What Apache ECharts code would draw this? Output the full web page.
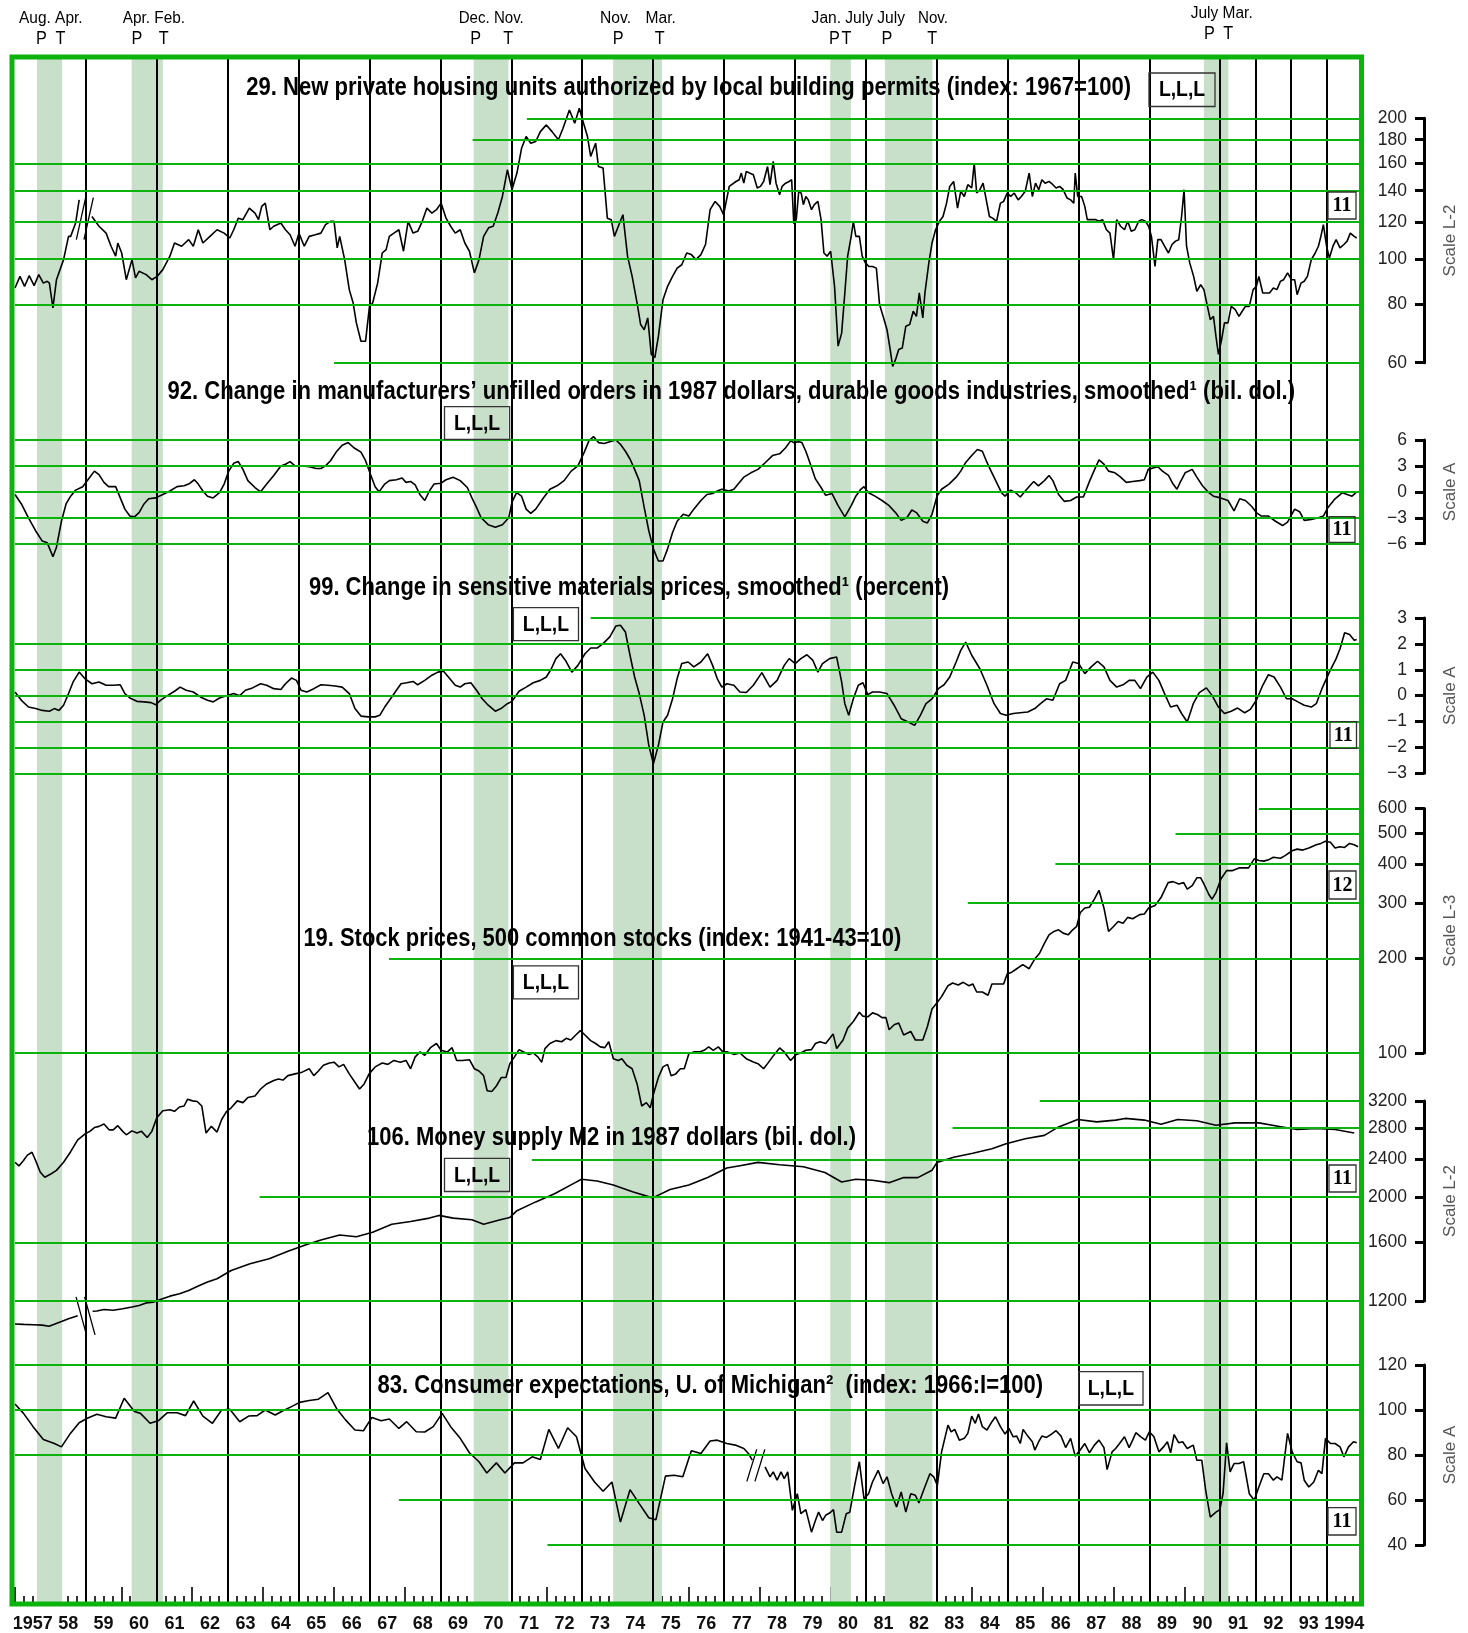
<!DOCTYPE html>
<html><head><meta charset="utf-8">
<script src="https://cdn.jsdelivr.net/npm/echarts@6/dist/echarts.min.js"></script>
<style>html,body{margin:0;padding:0;background:#fff}#c{width:1468px;height:1633px}</style>
</head><body><div id="c"></div>
<script>
// ---------------- DATA ----------------
const yearLabels = ['1957','58','59','60','61','62','63','64','65','66','67','68','69','70','71','72','73','74','75','76','77','78','79','80','81','82','83','84','85','86','87','88','89','90','91','92','93','1994'];
const recessions = [[1957.62,1958.33],[1960.29,1961.17],[1969.94,1970.92],[1973.875,1975.25],[1980.0,1980.58],[1981.54,1982.88],[1990.54,1991.23]];
const yearLines = [1959,1961,1963,1965,1967,1969,1971,1973,1975,1977,1979,1981,1983,1985,1987,1989,1991,1992,1993,1994];

const s29 = [[1957.00,86.7],[1957.14,91.8],[1957.27,87.4],[1957.40,92.1],[1957.54,87.7],[1957.67,92.6],[1957.80,88.8],[1957.91,89.6],[1957.97,88.8],[1958.07,78.6],[1958.17,90.3],[1958.37,99.7],[1958.51,111.8],[1958.57,111.8],[1958.71,119.4],[1958.81,133.8],[1959.0,null],
[1959.17,123.3],[1959.37,117.5],[1959.57,113.6],[1959.71,106.5],[1959.84,101.4],[1959.90,108.2],[1960.01,103.0],[1960.14,90.3],[1960.30,99.7],[1960.40,91.1],[1960.50,94.1],[1960.70,92.6],[1960.86,90.3],[1961.01,91.8],[1961.17,94.9],[1961.37,101.4],[1961.50,108.2],[1961.70,106.5],[1961.90,110.0],[1962.03,106.5],[1962.17,115.5],[1962.30,108.2],[1962.50,111.8],[1962.70,115.5],[1962.90,113.6],[1963.06,110.9],[1963.17,115.5],[1963.30,122.3],[1963.43,121.4],[1963.61,128.5],[1963.77,125.4],[1963.87,121.4],[1963.96,129.6],[1964.06,131.7],[1964.19,115.5],[1964.30,117.5],[1964.50,119.4],[1964.63,115.5],[1964.76,112.7],[1964.90,106.5],[1965.01,113.6],[1965.16,106.5],[1965.30,111.8],[1965.47,112.7],[1965.63,113.6],[1965.76,118.5],[1965.90,120.4],[1966.00,120.4],[1966.09,105.6],[1966.16,111.8],[1966.30,99.7],[1966.43,86.0],[1966.54,80.5],[1966.63,73.0],[1966.76,66.7],[1966.89,66.7],[1967.00,79.2],[1967.09,80.5],[1967.23,88.8],[1967.36,103.0],[1967.47,104.7],[1967.56,111.8],[1967.69,113.6],[1967.83,115.5],[1967.96,103.9],[1968.09,120.4],[1968.23,113.6],[1968.36,114.6],[1968.49,120.4],[1968.62,128.5],[1968.76,125.4],[1968.89,127.5],[1969.02,131.7],[1969.16,122.3],[1969.29,117.5],[1969.42,113.6],[1969.56,115.5],[1969.69,108.2],[1969.82,103.9],[1969.96,93.4],[1970.09,99.7],[1970.22,111.8],[1970.36,116.6],[1970.49,117.5],[1970.62,125.4],[1970.75,136.1],[1970.89,155.2],[1971.02,140.7],[1971.16,152.7],[1971.29,172.5],[1971.42,182.8],[1971.55,176.9],[1971.69,178.4],[1971.82,187.3],[1971.99,193.6],[1972.15,187.3],[1972.33,179.9],[1972.46,190.5],[1972.64,208.4],[1972.79,195.2],[1972.92,210.1],[1973.04,195.2],[1973.15,182.8],[1973.24,165.7],[1973.38,176.9],[1973.46,157.7],[1973.59,156.5],[1973.71,122.3],[1973.82,121.4],[1973.91,111.8],[1974.02,117.5],[1974.15,124.4],[1974.28,101.4],[1974.41,91.8],[1974.55,80.5],[1974.65,72.4],[1974.75,70.6],[1974.85,74.8],[1974.95,62.5],[1975.05,61.5],[1975.15,68.3],[1975.28,81.8],[1975.41,87.4],[1975.55,91.8],[1975.68,95.6],[1975.81,97.2],[1975.95,103.0],[1976.08,102.2],[1976.21,99.7],[1976.35,102.2],[1976.48,107.4],[1976.61,127.5],[1976.75,132.8],[1976.88,129.6],[1976.99,124.4],[1977.15,143.0],[1977.34,146.5],
[1977.43,147.8],[1977.49,152.7],[1977.56,145.3],[1977.63,154.0],[1977.72,152.7],[1977.83,151.5],[1977.94,141.9],[1978.03,143.0],[1978.12,146.5],[1978.23,157.7],[1978.30,144.2],[1978.39,161.7],[1978.47,145.3],[1978.57,137.3],[1978.64,143.0],[1978.74,145.3],[1978.84,146.5],[1978.91,147.8],[1978.97,119.0],[1979.04,121.4],[1979.11,139.6],[1979.18,138.4],[1979.24,130.7],[1979.31,136.1],[1979.38,133.8],[1979.47,127.5],[1979.55,130.7],[1979.65,132.8],[1979.74,121.4],[1979.82,103.0],[1979.91,101.4],[1980.01,103.9],[1980.12,87.4],[1980.22,65.1],[1980.32,69.4],[1980.41,84.6],[1980.49,101.4],[1980.59,111.8],[1980.65,120.4],[1980.72,111.8],[1980.82,111.8],[1980.90,101.4],[1980.99,98.1],[1981.09,96.4],[1981.19,96.4],[1981.30,95.6],[1981.39,79.9],[1981.49,75.4],[1981.60,70.6],[1981.69,64.0],[1981.76,58.9],[1981.84,60.9],[1981.93,64.0],[1982.03,64.5],[1982.13,71.8],[1982.24,72.4],[1982.34,77.3],[1982.43,75.4],[1982.51,84.6],[1982.61,74.8],[1982.67,84.6],[1982.78,98.1],[1982.87,108.2],[1982.97,115.5],[1983.08,120.4],[1983.18,123.3],[1983.28,131.7],[1983.37,143.0],[1983.48,146.5],[1983.59,128.5],[1983.68,139.6],[1983.78,136.1],[1983.88,144.2],[1983.99,141.9],[1984.06,160.2],[1984.13,138.4],[1984.22,140.7],[1984.31,145.3],[1984.40,133.8],[1984.49,123.3],[1984.58,122.3],[1984.69,120.4],[1984.80,131.7],[1984.89,132.8],[1984.99,138.4],[1985.09,136.1],[1985.19,138.4],[1985.30,133.8],[1985.39,136.1],[1985.50,139.6],[1985.61,152.7],[1985.70,136.1],[1985.79,145.3],[1985.88,140.7],[1985.97,147.8],[1986.06,145.3],[1986.17,146.5],[1986.28,144.2],[1986.37,141.9],[1986.47,143.0],[1986.57,140.7],[1986.68,135.0],[1986.78,133.8],[1986.87,131.7],[1986.91,152.7],[1986.98,136.1],[1987.09,136.1],[1987.18,129.6],[1987.25,121.4],[1987.36,121.4],[1987.49,121.4],[1987.58,120.4],[1987.68,121.4],[1987.79,115.5],[1987.89,113.6],[1987.99,99.7],[1988.08,121.4],[1988.19,117.5],[1988.30,115.5],[1988.39,120.4],[1988.49,114.6],[1988.59,115.5],[1988.70,120.4],[1988.79,121.4],[1988.89,120.4],[1988.98,117.5],[1989.06,111.8],[1989.16,96.4],[1989.24,110.0],[1989.33,110.0],[1989.43,106.5],[1989.54,103.0],[1989.64,107.4],[1989.74,109.2],[1989.83,110.0],[1989.91,123.3],[1989.98,140.7],[1990.05,106.5],[1990.14,98.1],[1990.25,91.8],[1990.34,85.3],[1990.45,88.1],[1990.54,86.0],[1990.64,79.2],[1990.72,74.2],[1990.81,75.4],[1990.88,68.3],[1990.95,62.5],[1991.04,67.2],[1991.12,73.0],[1991.22,73.0],[1991.31,79.2],[1991.42,78.0],[1991.53,75.4],[1991.62,77.3],[1991.71,79.2],[1991.82,79.2],[1991.93,86.0],[1992.02,87.4],[1992.09,91.8],[1992.20,84.6],[1992.29,84.6],[1992.39,84.6],[1992.50,86.7],[1992.60,86.0],[1992.70,89.6],[1992.79,90.3],[1992.90,93.4],[1993.01,90.3],[1993.10,90.3],[1993.17,83.9],[1993.28,88.8],[1993.37,89.6],[1993.46,91.8],[1993.57,99.7],[1993.68,103.0],[1993.77,106.5],[1993.84,111.8],[1993.91,118.5],[1994.00,106.5],[1994.08,100.5],[1994.18,106.5],[1994.27,110.0],[1994.38,105.6],[1994.49,107.4],[1994.58,109.2],[1994.67,113.6],[1994.78,111.8],[1994.85,110.9]];

const s92 = [[1957.00,-0.3],[1957.18,-1.4],[1957.38,-3.0],[1957.58,-4.5],[1957.77,-5.7],[1957.91,-5.9],[1958.07,-7.5],[1958.17,-6.4],[1958.31,-3.4],[1958.44,-1.4],[1958.57,-0.5],[1958.71,0.2],[1958.91,0.6],[1959.11,1.7],[1959.24,2.4],[1959.37,2.0],[1959.51,1.1],[1959.64,0.6],[1959.84,0.6],[1959.97,-0.7],[1960.10,-2.0],[1960.24,-2.8],[1960.37,-2.9],[1960.50,-2.4],[1960.64,-1.4],[1960.77,-0.8],[1960.97,-0.7],[1961.17,-0.3],[1961.37,0.1],[1961.57,0.6],[1961.77,0.7],[1961.90,0.9],[1962.06,1.4],[1962.17,0.9],[1962.30,0.1],[1962.43,-0.5],[1962.59,-0.7],[1962.77,-0.1],[1962.90,0.9],[1963.03,2.4],[1963.17,3.3],[1963.30,3.5],[1963.43,2.6],[1963.57,1.3],[1963.77,0.5],[1963.93,0.0],[1964.10,0.9],[1964.30,1.9],[1964.50,3.0],[1964.63,3.2],[1964.76,3.5],[1964.90,3.0],[1965.10,3.0],[1965.30,2.9],[1965.50,2.7],[1965.63,2.7],[1965.76,3.0],[1965.90,3.6],[1966.06,4.6],[1966.23,5.4],[1966.40,5.7],[1966.56,5.1],[1966.76,4.6],[1966.89,3.6],[1967.03,2.0],[1967.16,0.6],[1967.27,0.0],[1967.43,0.9],[1967.56,1.3],[1967.76,1.4],[1967.92,1.6],[1968.03,1.1],[1968.16,1.2],[1968.29,0.8],[1968.42,-0.3],[1968.56,-1.0],[1968.69,0.1],[1968.82,0.9],[1969.02,1.0],[1969.16,1.4],[1969.36,1.7],[1969.56,1.3],[1969.76,0.5],[1969.89,-0.7],[1970.02,-1.8],[1970.15,-3.0],[1970.35,-3.8],[1970.55,-4.1],[1970.75,-3.8],[1970.93,-3.0],[1971.02,-1.2],[1971.15,-0.1],[1971.29,-0.5],[1971.42,-2.0],[1971.55,-2.5],[1971.69,-2.0],[1971.89,-0.8],[1972.09,0.3],[1972.29,0.7],[1972.49,1.3],[1972.69,2.4],[1972.88,3.0],[1973.06,4.6],[1973.19,5.9],[1973.32,6.4],[1973.46,5.7],[1973.62,5.6],[1973.78,5.8],[1973.95,6.0],[1974.08,5.5],[1974.22,4.7],[1974.35,3.8],[1974.48,2.6],[1974.61,1.3],[1974.75,-1.8],[1974.88,-4.5],[1975.01,-6.6],[1975.15,-8.0],[1975.28,-8.0],[1975.41,-6.6],[1975.55,-4.7],[1975.68,-3.4],[1975.85,-2.6],[1976.01,-2.8],[1976.15,-2.0],[1976.35,-1.0],[1976.52,-0.3],[1976.68,-0.2],[1976.81,0.1],[1976.94,0.3],[1977.14,0.1],[1977.28,0.3],[1977.40,0.9],
[1977.56,1.7],[1977.76,2.2],[1977.96,2.6],[1978.17,3.4],[1978.37,4.2],[1978.57,4.4],[1978.74,5.1],[1978.88,5.9],[1978.97,5.7],[1979.11,5.8],[1979.20,5.7],[1979.31,4.7],[1979.44,3.2],[1979.58,1.5],[1979.74,0.5],[1979.87,-0.4],[1980.05,-0.2],[1980.22,-1.6],[1980.41,-2.9],[1980.59,-1.6],[1980.72,-0.5],[1980.86,0.3],[1980.95,0.6],[1981.08,-0.1],[1981.26,-0.5],[1981.46,-1.0],[1981.66,-1.6],[1981.84,-2.4],[1982.00,-3.3],[1982.16,-3.0],[1982.30,-2.1],[1982.43,-2.4],[1982.61,-3.4],[1982.74,-3.6],[1982.87,-2.6],[1983.01,-0.5],[1983.14,0.3],[1983.35,0.9],[1983.55,1.7],[1983.68,2.4],[1983.82,3.4],[1983.99,4.2],[1984.15,4.9],[1984.29,4.7],[1984.42,3.4],[1984.56,2.2],[1984.69,1.1],[1984.83,-0.1],[1984.93,-0.5],[1985.09,0.2],[1985.23,-0.1],[1985.36,-0.6],[1985.50,0.1],[1985.63,0.7],[1985.74,1.2],[1985.87,0.7],[1986.04,1.3],[1986.17,1.9],[1986.28,1.3],[1986.44,-0.3],[1986.60,-1.1],[1986.78,-1.0],[1986.95,-0.6],[1987.14,-0.6],[1987.32,1.3],[1987.48,2.8],[1987.58,3.7],[1987.72,3.2],[1987.85,2.4],[1988.03,2.2],[1988.19,1.7],[1988.35,1.1],[1988.53,1.2],[1988.73,1.3],[1988.86,1.4],[1988.97,2.6],[1989.13,2.8],[1989.24,2.9],[1989.37,2.4],[1989.54,1.9],[1989.67,0.9],[1989.78,0.3],[1989.87,1.1],[1990.01,2.2],[1990.21,2.6],[1990.34,1.7],[1990.50,0.7],[1990.68,-0.1],[1990.81,-0.5],[1991.01,-0.7],[1991.22,-1.0],[1991.39,-2.2],[1991.55,-0.8],[1991.71,-1.0],[1991.89,-1.7],[1992.02,-2.4],[1992.16,-2.8],[1992.36,-2.8],[1992.56,-3.4],[1992.76,-3.9],[1992.90,-3.5],[1993.10,-2.0],[1993.24,-2.3],[1993.37,-3.3],[1993.57,-3.2],[1993.77,-3.0],[1993.91,-2.8],[1994.04,-1.8],[1994.24,-0.8],[1994.45,-0.1],[1994.58,-0.3],[1994.72,-0.5],[1994.85,0.0]];

const s99 = [[1957.00,0.14],[1957.18,-0.18],[1957.38,-0.44],[1957.58,-0.50],[1957.77,-0.57],[1957.97,-0.60],[1958.11,-0.50],[1958.24,-0.57],[1958.37,-0.37],[1958.51,0.08],[1958.64,0.53],[1958.81,0.91],[1958.97,0.66],[1959.17,0.46],[1959.37,0.53],[1959.57,0.40],[1959.77,0.40],[1959.97,0.42],[1960.10,0.08],[1960.24,-0.09],[1960.44,-0.22],[1960.64,-0.24],[1960.84,-0.27],[1960.97,-0.35],[1961.10,-0.18],[1961.30,0.00],[1961.50,0.17],[1961.66,0.33],[1961.83,0.21],[1962.03,0.14],[1962.23,-0.05],[1962.43,-0.18],[1962.59,-0.24],[1962.77,-0.09],[1962.97,0.00],[1963.17,0.08],[1963.34,0.00],[1963.50,0.21],[1963.70,0.30],[1963.93,0.46],[1964.10,0.40],[1964.30,0.27],[1964.50,0.24],[1964.63,0.46],[1964.80,0.68],[1964.94,0.59],[1965.07,0.21],[1965.23,0.14],[1965.43,0.27],[1965.63,0.42],[1965.83,0.40],[1966.03,0.37],[1966.23,0.33],[1966.43,0.08],[1966.59,-0.50],[1966.76,-0.79],[1966.96,-0.82],[1967.16,-0.82],[1967.29,-0.76],[1967.43,-0.44],[1967.63,-0.05],[1967.76,0.21],[1967.89,0.46],[1968.05,0.50],[1968.23,0.55],[1968.36,0.42],[1968.56,0.59],[1968.76,0.79],[1968.93,0.91],[1969.09,0.94],[1969.25,0.68],[1969.42,0.40],[1969.56,0.33],[1969.69,0.46],[1969.86,0.50],[1970.02,0.21],[1970.18,-0.12],[1970.35,-0.37],[1970.55,-0.60],[1970.71,-0.50],[1970.89,-0.31],[1971.02,-0.22],[1971.22,0.17],[1971.42,0.33],[1971.62,0.50],[1971.82,0.59],[1971.99,0.72],[1972.13,1.04],[1972.26,1.43],[1972.39,1.62],[1972.53,1.36],[1972.71,0.91],[1972.88,1.17],[1973.08,1.62],[1973.24,1.84],[1973.42,1.84],[1973.59,2.01],[1973.78,2.27],[1973.95,2.69],[1974.08,2.72],[1974.22,2.46],[1974.35,1.56],[1974.48,0.72],[1974.61,0.08],[1974.75,-0.76],[1974.88,-1.92],[1975.01,-2.63],[1975.15,-1.92],[1975.28,-1.02],[1975.41,-0.76],[1975.55,-0.12],[1975.68,0.66],[1975.81,1.24],[1975.99,1.30],[1976.15,1.11],[1976.35,1.30],[1976.54,1.62],[1976.68,1.17],[1976.81,0.66],[1976.94,0.33],[1977.08,0.46],[1977.28,0.40],[1977.45,0.14],
[1977.63,0.12],[1977.83,0.40],[1978.07,0.89],[1978.30,0.33],[1978.50,0.59],[1978.70,1.17],[1978.84,1.43],[1979.01,1.24],[1979.17,1.43],[1979.34,1.58],[1979.51,1.36],[1979.65,0.91],[1979.78,1.24],[1979.98,1.43],[1980.18,1.49],[1980.32,0.53],[1980.41,-0.31],[1980.52,-0.76],[1980.65,-0.12],[1980.79,0.40],[1980.92,0.50],[1981.06,0.04],[1981.19,0.14],[1981.39,0.14],[1981.60,0.08],[1981.80,-0.37],[1982.00,-0.89],[1982.20,-1.02],[1982.38,-1.15],[1982.54,-0.76],[1982.70,-0.31],[1982.87,-0.12],[1983.05,0.27],[1983.21,0.42],[1983.37,0.72],[1983.55,1.30],[1983.68,1.75],[1983.82,2.07],[1983.99,1.56],[1984.22,1.04],[1984.42,0.40],[1984.62,-0.31],[1984.80,-0.69],[1984.96,-0.76],[1985.16,-0.69],[1985.36,-0.66],[1985.57,-0.63],[1985.77,-0.50],[1985.93,-0.31],[1986.10,-0.12],[1986.28,-0.18],[1986.47,0.46],[1986.64,0.59],[1986.84,1.30],[1987.01,1.24],[1987.18,0.85],[1987.36,1.11],[1987.54,1.33],[1987.72,1.11],[1987.89,0.59],[1988.08,0.33],[1988.26,0.42],[1988.43,0.59],[1988.59,0.59],[1988.75,0.27],[1988.93,0.72],[1989.10,0.91],[1989.27,0.59],[1989.43,0.08],[1989.60,-0.44],[1989.78,-0.37],[1989.91,-0.69],[1990.07,-1.02],[1990.24,-0.31],[1990.41,0.12],[1990.61,0.30],[1990.77,0.01],[1990.95,-0.44],[1991.12,-0.69],[1991.31,-0.60],[1991.49,-0.48],[1991.69,-0.66],[1991.85,-0.53],[1992.02,-0.18],[1992.20,0.40],[1992.36,0.81],[1992.52,0.72],[1992.70,0.33],[1992.87,-0.12],[1993.03,-0.12],[1993.19,-0.24],[1993.37,-0.37],[1993.57,-0.44],[1993.71,-0.31],[1993.87,0.27],[1994.08,0.91],[1994.27,1.43],[1994.38,1.81],[1994.51,2.43],[1994.65,2.36],[1994.78,2.14],[1994.85,2.17]];

const s19 = [[1957.00,44.9],[1957.11,43.7],[1957.24,45.5],[1957.35,47.3],[1957.48,48.3],[1957.58,45.5],[1957.71,41.8],[1957.84,40.2],[1958.01,41.2],[1958.17,42.3],[1958.37,44.9],[1958.57,48.5],[1958.77,52.9],[1958.97,55.2],[1959.11,56.3],[1959.24,57.9],[1959.37,58.4],[1959.51,59.4],[1959.66,56.9],[1959.77,56.9],[1959.90,58.7],[1960.04,56.3],[1960.14,54.9],[1960.30,56.5],[1960.44,55.6],[1960.57,56.3],[1960.73,53.8],[1960.86,56.3],[1961.00,62.2],[1961.17,65.5],[1961.37,66.0],[1961.50,65.2],[1961.64,67.3],[1961.77,67.8],[1961.87,71.3],[1962.01,70.4],[1962.14,70.1],[1962.27,67.8],[1962.39,55.6],[1962.54,58.4],[1962.70,56.0],[1962.83,61.4],[1962.97,65.2],[1963.10,66.9],[1963.27,70.4],[1963.43,69.5],[1963.57,72.2],[1963.77,73.0],[1963.93,76.8],[1964.10,79.7],[1964.30,81.7],[1964.43,82.6],[1964.56,82.0],[1964.70,84.7],[1964.90,85.8],[1965.10,86.9],[1965.30,89.1],[1965.43,84.7],[1965.56,87.6],[1965.70,91.4],[1965.87,92.9],[1966.00,93.5],[1966.14,90.3],[1966.27,92.0],[1966.43,85.8],[1966.59,80.7],[1966.72,76.8],[1966.85,79.7],[1966.99,85.8],[1967.16,90.3],[1967.36,92.9],[1967.52,92.0],[1967.69,94.7],[1967.87,93.5],[1968.03,94.7],[1968.16,89.1],[1968.29,97.2],[1968.43,100.8],[1968.56,98.3],[1968.72,104.0],[1968.89,107.2],[1969.02,102.0],[1969.20,100.8],[1969.33,104.0],[1969.46,94.7],[1969.62,94.7],[1969.82,95.2],[1969.96,89.1],[1970.09,87.6],[1970.22,84.7],[1970.32,75.8],[1970.45,75.4],[1970.58,78.5],[1970.72,83.6],[1970.85,83.6],[1970.96,92.5],[1971.09,97.2],[1971.22,102.5],[1971.35,100.8],[1971.49,99.0],[1971.62,100.0],[1971.75,97.2],[1971.86,93.5],[1971.95,103.3],[1972.09,107.2],[1972.26,109.5],[1972.42,108.6],[1972.55,111.4],[1972.68,110.0],[1972.82,114.1],[1972.95,117.8],[1973.08,114.1],[1973.24,109.5],[1973.38,107.2],[1973.51,104.6],[1973.64,104.0],[1973.75,108.6],[1973.88,95.9],[1974.02,94.7],[1974.12,95.9],[1974.26,91.4],[1974.41,89.1],[1974.55,79.7],[1974.68,67.8],[1974.81,69.5],[1974.92,66.9],[1975.01,73.9],[1975.15,83.6],[1975.28,90.3],[1975.41,92.0],[1975.51,84.7],[1975.64,85.8],[1975.77,89.1],[1975.88,89.1],[1976.01,99.5],[1976.15,100.8],[1976.31,100.8],[1976.44,102.0],[1976.57,104.6],[1976.70,102.0],[1976.84,104.6],[1976.97,100.8],[1977.10,100.8],[1977.28,99.0],[1977.45,100.0],
[1977.63,95.9],[1977.83,93.6],[1977.96,92.5],[1978.12,89.1],[1978.23,92.5],[1978.37,97.2],[1978.57,103.8],[1978.70,100.8],[1978.88,94.7],[1979.04,99.0],[1979.17,100.0],[1979.31,102.0],[1979.47,102.5],[1979.58,107.2],[1979.71,108.6],[1979.87,107.2],[1980.08,115.0],[1980.18,103.3],[1980.36,110.0],[1980.49,120.0],[1980.65,126.0],[1980.82,134.8],[1980.92,131.0],[1981.06,130.4],[1981.19,134.2],[1981.33,132.6],[1981.46,129.6],[1981.57,129.6],[1981.66,118.6],[1981.80,123.0],[1981.93,124.6],[1982.07,114.1],[1982.27,117.1],[1982.40,110.0],[1982.61,110.0],[1982.74,121.4],[1982.87,138.1],[1983.01,144.5],[1983.14,151.2],[1983.32,163.8],[1983.45,167.1],[1983.61,164.6],[1983.75,167.9],[1983.91,163.8],[1984.02,165.9],[1984.13,156.4],[1984.29,156.4],[1984.45,152.7],[1984.56,165.9],[1984.69,165.9],[1984.89,165.9],[1984.99,178.5],[1985.12,180.9],[1985.26,185.5],[1985.43,191.1],[1985.61,185.5],[1985.77,199.5],[1985.90,207.4],[1986.04,223.3],[1986.17,237.8],[1986.31,243.8],[1986.44,246.8],[1986.57,240.8],[1986.71,237.8],[1986.84,246.8],[1986.95,252.9],[1987.05,279.6],[1987.18,289.6],[1987.31,291.1],[1987.45,308.8],[1987.58,329.7],[1987.72,289.6],[1987.85,243.8],[1987.99,252.9],[1988.12,262.1],[1988.26,258.7],[1988.39,270.3],[1988.53,267.6],[1988.73,275.8],[1988.86,277.2],[1988.98,289.6],[1989.16,295.0],[1989.33,312.6],[1989.53,348.7],[1989.67,351.3],[1989.83,345.3],[1989.97,348.7],[1990.07,332.3],[1990.21,340.9],[1990.34,361.2],[1990.45,361.2],[1990.54,345.3],[1990.68,319.7],[1990.77,308.8],[1990.88,324.2],[1991.02,358.2],[1991.18,380.8],[1991.35,380.8],[1991.55,388.6],[1991.80,388.6],[1991.96,415.1],[1992.09,410.2],[1992.23,408.2],[1992.36,412.1],[1992.50,420.0],[1992.70,417.1],[1992.83,425.1],[1993.03,440.5],[1993.17,445.8],[1993.33,442.6],[1993.50,449.2],[1993.71,460.1],[1993.84,464.9],[1993.97,472.3],[1994.11,468.6],[1994.24,449.2],[1994.38,453.6],[1994.51,451.3],[1994.65,464.9],[1994.78,460.1],[1994.89,453.6]];

const s106 = [[1957.00,1072],[1957.24,1070],[1957.51,1068],[1957.77,1066],[1957.96,1060],[1958.11,1071],[1958.31,1085],[1958.51,1100],[1958.77,1116],[1959.0,null],[1959.19,1141],[1959.31,1143],[1959.51,1151],[1959.77,1147],[1960.04,1155],[1960.30,1165],[1960.50,1174],[1960.70,1189],[1960.90,1193],[1961.10,1209],[1961.37,1229],[1961.64,1243],[1961.90,1264],[1962.17,1291],[1962.43,1317],[1962.70,1338],[1963.10,1394],[1963.63,1441],[1964.17,1477],[1964.70,1532],[1965.23,1583],[1965.63,1618],[1966.16,1659],[1966.63,1645],[1967.09,1681],[1967.63,1749],[1968.16,1772],[1968.69,1802],[1968.96,1826],[1969.36,1802],[1969.89,1787],[1970.22,1749],[1970.69,1787],[1970.96,1808],[1971.16,1869],[1971.69,1951],[1972.22,2030],[1972.75,2134],[1972.98,2180],[1973.42,2162],[1973.88,2119],[1974.42,2050],[1974.99,1990],[1975.48,2074],[1976.01,2119],[1976.54,2198],[1977.08,2303],[1977.45,2330],[1977.96,2368],[1978.57,2341],[1979.24,2318],[1979.85,2253],[1980.32,2151],[1980.72,2180],[1981.19,2170],[1981.66,2144],[1982.07,2198],[1982.47,2198],[1982.87,2279],[1983.01,2368],[1983.48,2428],[1984.02,2477],[1984.56,2531],[1984.96,2594],[1985.50,2660],[1986.04,2704],[1986.44,2818],[1986.98,2923],[1987.52,2889],[1988.05,2914],[1988.32,2938],[1988.86,2914],[1989.33,2856],[1989.80,2923],[1990.34,2904],[1990.88,2842],[1991.42,2875],[1992.09,2875],[1992.63,2828],[1993.17,2782],[1993.71,2796],[1994.24,2782],[1994.78,2735]];

const s83 = [[1957.00,102.7],[1957.24,98.5],[1957.51,92.6],[1957.80,86.9],[1958.11,85.1],[1958.31,83.6],[1958.55,89.3],[1958.81,94.3],[1959.04,96.3],[1959.31,98.1],[1959.57,97.0],[1959.84,96.4],[1960.08,105.2],[1960.37,99.3],[1960.54,98.5],[1960.81,94.1],[1961.04,95.2],[1961.30,98.8],[1961.57,98.8],[1961.81,97.5],[1962.04,104.0],[1962.30,97.3],[1962.57,94.1],[1962.83,100.0],[1963.06,100.3],[1963.34,94.8],[1963.59,97.3],[1963.83,97.5],[1964.06,100.0],[1964.34,97.8],[1964.56,99.7],[1964.80,101.5],[1965.03,103.4],[1965.30,104.2],[1965.56,104.8],[1965.83,107.7],[1966.07,100.7],[1966.33,95.5],[1966.59,91.1],[1966.83,90.8],[1967.07,96.7],[1967.33,95.2],[1967.56,96.0],[1967.83,91.8],[1968.05,94.8],[1968.32,90.3],[1968.56,90.2],[1968.80,92.6],[1969.05,98.5],[1969.29,92.6],[1969.56,87.4],[1969.82,81.0],[1970.09,77.0],[1970.31,72.0],[1970.58,76.5],[1970.82,72.0],[1971.09,76.5],[1971.33,76.5],[1971.59,79.2],[1971.82,78.0],[1972.06,91.4],[1972.33,82.9],[1972.59,92.1],[1972.84,88.1],[1973.08,74.0],[1973.35,68.0],[1973.59,63.9],[1973.84,68.0],[1974.08,50.2],[1974.35,64.6],[1974.61,58.4],[1974.88,52.1],[1975.08,51.2],[1975.35,70.6],[1975.59,71.0],[1975.84,70.3],[1976.08,81.9],[1976.35,80.7],[1976.61,86.2],[1976.81,86.6],[1977.08,85.1],[1977.32,84.4],[1977.56,82.9],[1977.69,80.7],[1977.80,77.7],[1977.95,null],
[1978.16,74.7],[1978.30,70.3],[1978.39,72.5],[1978.50,68.8],[1978.61,72.5],[1978.70,69.5],[1978.80,72.5],[1978.93,55.4],[1979.07,62.8],[1979.17,53.9],[1979.31,55.7],[1979.47,45.7],[1979.58,50.9],[1979.67,54.6],[1979.78,50.9],[1979.87,53.2],[1979.98,54.2],[1980.09,55.7],[1980.18,45.7],[1980.32,45.7],[1980.45,53.9],[1980.55,54.6],[1980.68,65.8],[1980.82,77.0],[1980.95,60.6],[1981.08,62.8],[1981.19,68.0],[1981.35,73.2],[1981.49,67.3],[1981.60,70.3],[1981.73,62.8],[1981.87,56.9],[1982.00,63.6],[1982.13,54.6],[1982.27,62.8],[1982.40,62.1],[1982.50,58.7],[1982.65,65.1],[1982.81,71.7],[1982.92,70.3],[1983.02,66.5],[1983.14,81.4],[1983.32,93.3],[1983.41,90.3],[1983.51,91.4],[1983.64,86.6],[1983.78,87.4],[1983.88,89.6],[1983.99,97.3],[1984.09,94.1],[1984.18,98.2],[1984.29,92.6],[1984.42,91.1],[1984.56,94.8],[1984.66,97.0],[1984.80,92.6],[1984.93,89.3],[1985.04,91.8],[1985.16,88.1],[1985.26,88.4],[1985.36,85.1],[1985.44,91.4],[1985.57,88.4],[1985.70,85.9],[1985.77,82.2],[1985.88,85.9],[1985.97,88.4],[1986.10,87.8],[1986.24,89.3],[1986.37,90.8],[1986.51,88.4],[1986.64,83.3],[1986.78,87.4],[1986.91,79.5],[1987.05,82.2],[1987.18,85.1],[1987.31,81.0],[1987.45,84.4],[1987.58,86.6],[1987.72,83.3],[1987.81,73.5],[1987.95,81.4],[1988.05,82.9],[1988.16,85.1],[1988.30,88.1],[1988.43,83.3],[1988.53,86.6],[1988.62,89.9],[1988.76,88.1],[1988.89,86.6],[1989.00,90.3],[1989.13,88.1],[1989.27,81.4],[1989.40,83.6],[1989.51,85.9],[1989.60,81.0],[1989.70,89.1],[1989.83,85.4],[1989.94,85.9],[1990.07,82.9],[1990.24,84.4],[1990.34,77.7],[1990.48,77.7],[1990.59,64.3],[1990.72,52.4],[1990.88,54.6],[1990.99,55.7],[1991.08,62.8],[1991.18,85.4],[1991.28,72.5],[1991.39,76.2],[1991.53,76.2],[1991.66,77.0],[1991.82,62.8],[1991.96,59.9],[1992.09,65.8],[1992.23,71.7],[1992.36,71.7],[1992.50,68.8],[1992.60,70.3],[1992.74,68.8],[1992.90,89.6],[1993.03,81.4],[1993.17,77.0],[1993.28,76.5],[1993.37,68.8],[1993.50,65.8],[1993.64,68.0],[1993.77,73.2],[1993.87,71.7],[1993.97,87.4],[1994.11,85.1],[1994.24,85.1],[1994.38,83.6],[1994.49,79.2],[1994.62,83.6],[1994.76,85.9],[1994.85,85.4]];

// tick values and gridline values [value, start year]
const ticks29 = [60,80,100,120,140,160,180,200];
const grid29 = [[60,1966.0],[80,1957],[100,1957],[120,1957],[140,1957],[160,1957],[180,1969.91],[200,1971.44]];
const ticks92 = [-6,-3,0,3,6];
const grid92 = [[-6,1957],[-3,1957],[0,1957],[3,1957],[6,1957]];
const ticks99 = [-3,-2,-1,0,1,2,3];
const grid99 = [[-3,1957],[-2,1957],[-1,1957],[0,1957],[1,1957],[2,1957],[3,1973.24]];
const ticks19 = [100,200,300,400,500,600];
const grid19 = [[100,1957],[200,1967.55],[300,1983.88],[400,1986.35],[500,1989.74],[600,1992.09]];
const ticks106 = [1200,1600,2000,2400,2800,3200];
const grid106 = [[1200,1957],[1600,1957],[2000,1963.90],[2400,1971.58],[2800,1983.45],[3200,1985.91]];
const ticks83 = [40,60,80,100,120];
const grid83 = [[40,1972.02],[60,1967.83],[80,1957],[100,1957],[120,1957]];

// series breaks: [year, value] where the "//" sign sits
const break29 = [1958.97, 122];
const break106 = [1958.99, 1116];
const break83 = [1977.9, 75.4];

// ---------------- LAYOUT ----------------
const X0 = 1957, X1 = 1995;
const GL = 15, GW = 1347;
const GREEN = '#0cb30c', SHADE = '#c8dfca';
const SANS = '"Liberation Sans", Arial, sans-serif';
const panels = [
  {data:s29, type:'log', min:60, max:200, ticks:ticks29, grid:grid29, name:'Scale L-2', top:118.3, height:244.4, brk:break29, brkSize:[17,42], brkDir:1},
  {data:s92, type:'value', min:-6, max:6, ticks:ticks92, grid:grid92, name:'Scale A', top:440, height:103.7},
  {data:s99, type:'value', min:-3, max:3, ticks:ticks99, grid:grid99, name:'Scale A', top:618, height:155.3},
  {data:s19, type:'log', min:100, max:600, ticks:ticks19, grid:grid19, name:'Scale L-3', top:808.6, height:244.4},
  {data:s106, type:'log', min:1200, max:3200, ticks:ticks106, grid:grid106, name:'Scale L-2', top:1101, height:200, brk:break106, brkSize:[19,38], brkDir:-1},
  {data:s83, type:'value', min:40, max:120, ticks:ticks83, grid:grid83, name:'Scale A', top:1365, height:180, brk:break83, brkSize:[18,32], brkDir:1}
];

const fmt = v => { const r = Math.round(v); return r < 0 ? '\u2212' + (-r) : String(r); };

// pick a condensed font if one is installed
const mctx = document.createElement('canvas').getContext('2d');
function textW(font, t) { mctx.font = font; return mctx.measureText(t).width; }
const hasNarrow = Math.abs(textW('bold 20px "Liberation Sans Narrow", monospace', '1957 58') - textW('bold 20px monospace', '1957 58')) > 0.5;
const yearFont = hasNarrow ? {fontFamily:'"Liberation Sans Narrow"', fontSize:22} : {fontFamily:SANS, fontSize:18};
const tickFont = hasNarrow ? {fontFamily:'"Liberation Sans Narrow"', fontSize:20} : {fontFamily:SANS, fontSize:17.5};

const grids = [{left:GL, width:GW, top:57, height:1547, outerBoundsMode:'none'}];
const xAxes = [
  {type:'value', gridIndex:0, min:X0, max:X1, interval:1, position:'bottom',
   axisLine:{show:false}, axisLabel:{show:false}, splitLine:{show:false},
   axisTick:{show:true, inside:true, length:17, lineStyle:{color:'#000', width:1.6}},
   minorTick:{show:true, splitNumber:4, length:8, lineStyle:{color:'#000', width:1.6}}},
  {type:'category', gridIndex:0, position:'bottom', data:yearLabels, boundaryGap:true,
   axisLine:{show:false}, axisTick:{show:false}, splitLine:{show:false},
   axisLabel:{interval:0, margin:11, fontSize:yearFont.fontSize, fontWeight:'bold', fontFamily:yearFont.fontFamily, color:'#111'}}
];
const yAxes = [{type:'value', gridIndex:0, min:0, max:1, show:false}];
const series = [{
  type:'line', xAxisIndex:0, yAxisIndex:0, data:[], silent:true, z:1,
  markArea:{silent:true, itemStyle:{color:SHADE}, data:recessions.map(r => [{xAxis:r[0]},{xAxis:r[1]}])},
  markLine:{silent:true, symbol:['none','none'], label:{show:false}, lineStyle:{color:'#000', width:2, type:'solid'},
            data:yearLines.map(y => ({xAxis:y}))}
}];

panels.forEach((p, i) => {
  const gi = i + 1, xi = i + 2;
  p.xi = xi; p.yi = gi;
  grids.push({left:GL, width:GW, top:p.top, height:p.height, outerBoundsMode:'none'});
  xAxes.push({type:'value', gridIndex:gi, min:X0, max:X1, show:false});
  const ya = {type:p.type, gridIndex:gi, min:p.min, max:p.max, position:'right', offset:62,
    splitLine:{show:false},
    axisLine:{show:true, lineStyle:{color:'#000', width:3}},
    axisTick:{show:true, inside:true, length:9, customValues:p.ticks, lineStyle:{color:'#000', width:3}},
    axisLabel:{inside:true, margin:17, customValues:p.ticks, formatter:fmt, fontSize:tickFont.fontSize, fontFamily:tickFont.fontFamily, color:'#222'},
    name:p.name, nameLocation:'middle', nameRotate:90, nameGap:18,
    nameTextStyle:{fontSize:17, fontFamily:SANS, color:'#555'}};
  if (p.type === 'log') ya.logBase = 10;
  yAxes.push(ya);
  series.push({
    type:'line', xAxisIndex:xi, yAxisIndex:gi, data:[], silent:true, z:2,
    markLine:{silent:true, symbol:['none','none'], label:{show:false}, lineStyle:{color:GREEN, width:2.2, type:'solid'},
      data:p.grid.map(g => [{coord:[g[1], g[0]]},{coord:[X1, g[0]]}])}
  });
  series.push({
    type:'line', xAxisIndex:xi, yAxisIndex:gi, data:p.data, silent:true, z:3,
    showSymbol:false, symbol:'none', clip:false, connectNulls:false,
    lineStyle:{color:'#000', width:1.6}
  });
});

// ---------------- TEXT / ANNOTATIONS ----------------
function fitText(text, x0, x1, cy, font) {
  const w = textW(font, text);
  return {type:'text', x:x0, y:cy, scaleX:(x1 - x0) / w, z:60, silent:true,
    style:{text:text, font:font, fill:'#000', align:'left', verticalAlign:'middle', textAlign:'left', textVerticalAlign:'middle'}};
}
function ctext(text, cx, cy, font, color, sx) {
  return {type:'text', x:cx, y:cy, scaleX:sx || 1, z:60, silent:true,
    style:{text:text, font:font, fill:color || '#000', align:'center', verticalAlign:'middle', textAlign:'center', textVerticalAlign:'middle'}};
}
function box(x0, y0, x1, y1) {
  return {type:'rect', z:59, silent:true, shape:{x:x0, y:y0, width:x1 - x0, height:y1 - y0},
    style:{fill:'none', stroke:'#333', lineWidth:1.3}};
}
const TF = 'bold 25px "Liberation Sans"';
const titles = [
  ['29. New private housing units authorized by local building permits (index: 1967=100)', 246.3, 1131, 88],
  ['92. Change in manufacturers\u2019 unfilled orders in 1987 dollars, durable goods industries, smoothed\u00b9 (bil. dol.)', 167.5, 1295, 391.7],
  ['99. Change in sensitive materials prices, smoothed\u00b9 (percent)', 309, 949, 588],
  ['19. Stock prices, 500 common stocks (index: 1941-43=10)', 303.4, 901.3, 938.7],
  ['106. Money supply M2 in 1987 dollars (bil. dol.)', 367, 856, 1138],
  ['83. Consumer expectations, U. of Michigan\u00b2  (index: 1966:I=100)', 377.5, 1043, 1386]
];
const lllBoxes = [[1149,73,1215,106.5],[444.5,406.7,509.6,439.3],[513.4,607.7,578.5,640.7],[513.4,965.8,578.5,998.9],[444.5,1158.4,509.6,1191.5],[1078.7,1371.7,1143,1405]];
const numBoxes = [[1328,192,1356,219,'11'],[1329,516.7,1355,542.3,'11'],[1330,721.7,1356.5,748.3,'11'],[1329,871,1356,899,'12'],[1329,1165,1356,1192,'11'],[1328,1507.7,1356,1535,'11']];
const monthLabels = [['Aug. Apr.',19,82.6,18.3],['Apr. Feb.',122.7,185,18.3],['Dec. Nov.',458.7,523.8,18.3],['Nov.',600,631,18.3],['Mar.',645.5,675.8,18.3],['Jan. July July',811.6,905,18.3],['Nov.',918,948,18.3],['July Mar.',1190.7,1252.7,13.7]];
const ptLabels = [['P',41.5,39.5],['T',60.4,39.5],['P',136.9,39.5],['T',163.7,39.5],['P',475.7,39.5],['T',508.2,39.5],['P',618.2,39.5],['T',659.7,39.5],['P',834.5,39.5],['T',846.4,39.5],['P',887,39.5],['T',932.3,39.5],['P',1209.3,34],['T',1228.3,34]];

const graphics = [];
graphics.push({type:'rect', z:80, silent:true, shape:{x:12, y:57, width:1349.5, height:1547},
  style:{fill:'none', stroke:GREEN, lineWidth:5}});
titles.forEach(t => graphics.push(fitText(t[0], t[1], t[2], t[3], TF)));
lllBoxes.forEach(b => {
  graphics.push(box(b[0], b[1], b[2], b[3]));
  graphics.push(ctext('L,L,L', (b[0] + b[2]) / 2, (b[1] + b[3]) / 2 + 0.5, 'bold 22px "Liberation Sans"', '#000', 0.88));
});
numBoxes.forEach(b => {
  graphics.push(box(b[0], b[1], b[2], b[3]));
  graphics.push(ctext(b[4], (b[0] + b[2]) / 2, (b[1] + b[3]) / 2 + 0.5, 'bold 21px "Liberation Serif"', '#000', 0.95));
});
monthLabels.forEach(m => graphics.push(fitText(m[0], m[1], m[2], m[3], '16px "Liberation Sans"')));
ptLabels.forEach(p => graphics.push(ctext(p[0], p[1], p[2], '18px "Liberation Sans"', '#000', 0.9)));

const chart = echarts.init(document.getElementById('c'), null, {renderer:'canvas'});
try {
  chart.setOption({
    animation:false,
    backgroundColor:'#fff',
    grid:grids, xAxis:xAxes, yAxis:yAxes, series:series
  });
  // break signs placed through each panel's own scales
  panels.forEach(p => {
    if (!p.brk) return;
    const pt = chart.convertToPixel({xAxisIndex:p.xi, yAxisIndex:p.yi}, p.brk);
    const w = p.brkSize[0], h = p.brkSize[1], d = p.brkDir;
    const a = w * 0.55;
    const ls = {stroke:'#000', lineWidth:1.3};
    const mk = off => ({type:'line', silent:true, shape: d > 0
        ? {x1:-w / 2 + off, y1:h / 2, x2:-w / 2 + off + a, y2:-h / 2}
        : {x1:-w / 2 + off, y1:-h / 2, x2:-w / 2 + off + a, y2:h / 2}, style:ls});
    graphics.push({type:'group', x:pt[0], y:pt[1], z:61, silent:true, children:[mk(0), mk(w - a)]});
  });
  chart.setOption({graphic:{elements:graphics}});
} catch (e) {
  const d = document.createElement('pre'); d.style.cssText = 'position:absolute;left:20px;top:20px;font:14px monospace;background:#fee';
  d.textContent = e.message + '\n' + e.stack; document.body.appendChild(d);
}
</script></body></html>
